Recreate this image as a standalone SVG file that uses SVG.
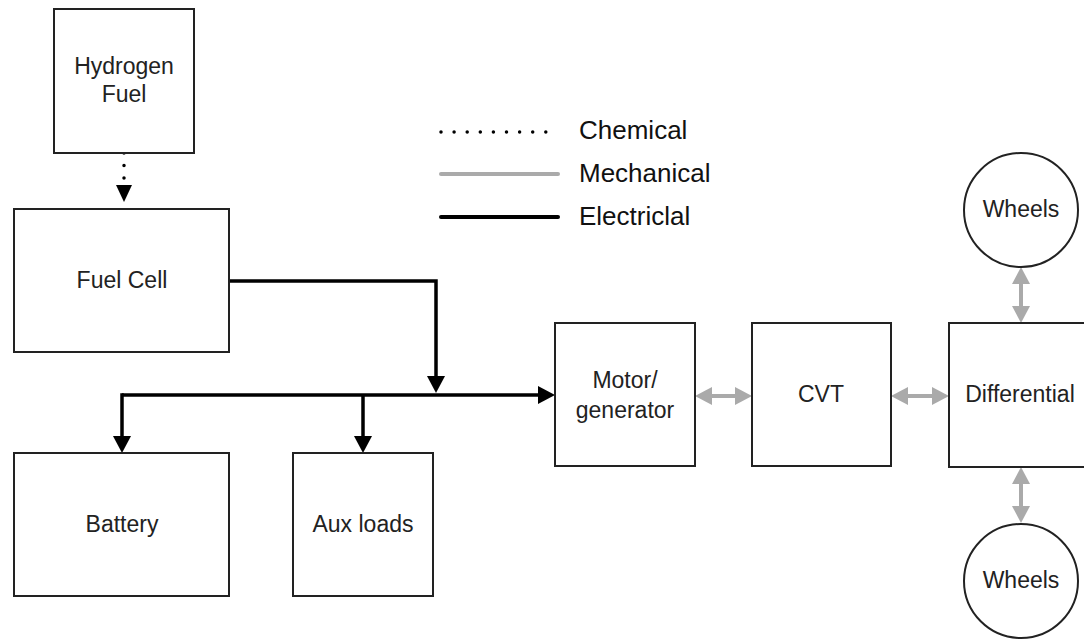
<svg xmlns="http://www.w3.org/2000/svg" width="1084" height="639" viewBox="0 0 1084 639">
  <style>
    .box { fill: #fff; stroke: #222; stroke-width: 2; }
    .lbl { font-family: "Liberation Sans", Arial, sans-serif; font-size: 23px; fill: #222; text-anchor: middle; }
    .leg { font-family: "Liberation Sans", Arial, sans-serif; font-size: 26px; fill: #111; }
    .elec { fill: none; stroke: #000; stroke-width: 3.5; }
    .mech { fill: none; stroke: #aaa; stroke-width: 4; }
    .chem { fill: none; stroke: #000; stroke-width: 3.5; stroke-linecap: round; stroke-dasharray: 0 12.5; }
  </style>
  <defs>
    <marker id="ab" markerUnits="userSpaceOnUse" markerWidth="18" markerHeight="18" refX="0" refY="9" orient="auto" viewBox="0 0 18 18">
      <path d="M0,0 L17,9 L0,18 Z" fill="#000"/>
    </marker>
    <marker id="ac" markerUnits="userSpaceOnUse" markerWidth="18" markerHeight="16" refX="0" refY="8" orient="auto" viewBox="0 0 18 16">
      <path d="M0,0 L17,8 L0,16 Z" fill="#000"/>
    </marker>
    <marker id="ag" markerUnits="userSpaceOnUse" markerWidth="18" markerHeight="18" refX="0" refY="9" orient="auto-start-reverse" viewBox="0 0 18 18">
      <path d="M0,0 L17,9 L0,18 Z" fill="#aaa"/>
    </marker>
  </defs>
  <rect width="1084" height="639" fill="#fff"/>

  <g id="legend">
    <line class="chem" x1="441" y1="132" x2="546" y2="132" style="stroke-dasharray:0 13.1"/>
    <text class="leg" x="579" y="139">Chemical</text>
    <line class="mech" x1="441" y1="174" x2="558" y2="174" style="stroke-linecap:round"/>
    <text class="leg" x="579" y="182">Mechanical</text>
    <line class="elec" x1="441" y1="217" x2="558" y2="217" style="stroke-width:4;stroke-linecap:round"/>
    <text class="leg" x="579" y="225">Electriclal</text>
  </g>

  <g id="connectors">
    <path class="chem" d="M124,153 V185" marker-end="url(#ac)"/>
    <path class="elec" d="M229,281 H436 V376" marker-end="url(#ab)"/>
    <path class="elec" d="M122,395 H538" marker-end="url(#ab)"/>
    <path class="elec" d="M122,393.25 V436" marker-end="url(#ab)"/>
    <path class="elec" d="M363,395 V436" marker-end="url(#ab)"/>
    <path class="mech" d="M712,396 H735" marker-start="url(#ag)" marker-end="url(#ag)"/>
    <path class="mech" d="M908,396 H932" marker-start="url(#ag)" marker-end="url(#ag)"/>
    <path class="mech" d="M1021,284 V306" marker-start="url(#ag)" marker-end="url(#ag)"/>
    <path class="mech" d="M1021,484 V506" marker-start="url(#ag)" marker-end="url(#ag)"/>
  </g>

  <g id="hydrogen-fuel">
    <rect class="box" x="54" y="9" width="140" height="144"/>
    <text class="lbl" x="124" y="74">Hydrogen</text>
    <text class="lbl" x="124" y="102">Fuel</text>
  </g>
  <g id="fuel-cell">
    <rect class="box" x="14" y="209" width="215" height="143"/>
    <text class="lbl" x="122" y="288">Fuel Cell</text>
  </g>
  <g id="battery">
    <rect class="box" x="14" y="453" width="215" height="143"/>
    <text class="lbl" x="122" y="532">Battery</text>
  </g>
  <g id="aux-loads">
    <rect class="box" x="293" y="453" width="140" height="143"/>
    <text class="lbl" x="363" y="532">Aux loads</text>
  </g>
  <g id="motor-generator">
    <rect class="box" x="555" y="323" width="140" height="143"/>
    <text class="lbl" x="625" y="388">Motor/</text>
    <text class="lbl" x="625" y="418">generator</text>
  </g>
  <g id="cvt">
    <rect class="box" x="752" y="323" width="139" height="143"/>
    <text class="lbl" x="821" y="402">CVT</text>
  </g>
  <g id="differential">
    <rect class="box" x="949" y="323" width="144" height="144"/>
    <text class="lbl" x="1020" y="402">Differential</text>
  </g>
  <g id="wheels-top">
    <circle class="box" cx="1021" cy="210" r="57"/>
    <text class="lbl" x="1021" y="217">Wheels</text>
  </g>
  <g id="wheels-bottom">
    <circle class="box" cx="1021" cy="581" r="57"/>
    <text class="lbl" x="1021" y="588">Wheels</text>
  </g>
</svg>
